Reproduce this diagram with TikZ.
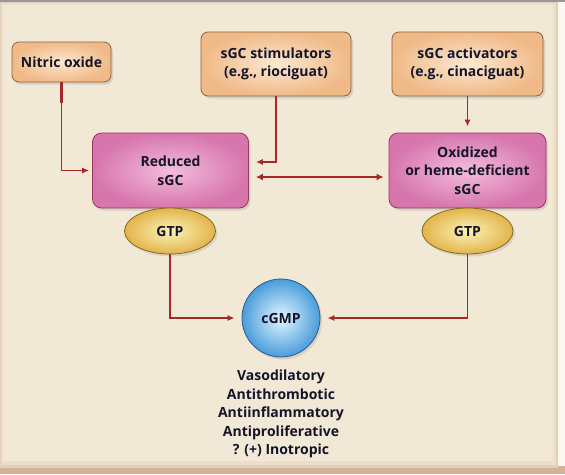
\documentclass[tikz,border=0pt]{standalone}
\usepackage{fontspec}
\setmainfont{Open Sans}
\usetikzlibrary{arrows.meta,shadows,shapes.geometric,calc}

\definecolor{bgbeige}{HTML}{F2E8D6}
\definecolor{bgedge}{HTML}{E4CFB8}
\definecolor{bgrim}{HTML}{D4B395}
\definecolor{rimgray}{HTML}{9A9895}
\definecolor{agentin}{HTML}{FCE8D0}
\definecolor{agentout}{HTML}{F0BA88}
\definecolor{agentedge}{HTML}{8E6140}
\definecolor{sgcin}{HTML}{F4BCDC}
\definecolor{sgcout}{HTML}{D676AD}
\definecolor{sgcedge}{HTML}{9A3566}
\definecolor{gtpin}{HTML}{FCF2B8}
\definecolor{gtpout}{HTML}{E2B44A}
\definecolor{gtpedge}{HTML}{876A22}
\definecolor{cgmpin}{HTML}{E2F7FF}
\definecolor{cgmpout}{HTML}{4A9CDB}
\definecolor{cgmpedge}{HTML}{2A5C8C}
\definecolor{arrowred}{HTML}{A52A26}
\definecolor{txtdark}{HTML}{15152A}

\begin{document}
\begin{tikzpicture}[x=1pt,y=-1pt,
    every node/.style={font=\fontsize{14}{18.5}\selectfont\bfseries, text=txtdark, align=center, inner sep=0pt},
    softshadow/.style={drop shadow={opacity=0.22, shadow xshift=2pt, shadow yshift=-2.5pt}},
    agentbox/.style={draw=agentedge, line width=0.8pt, rounded corners=7pt,
        inner color=agentin, outer color=agentout, softshadow},
    sgcbox/.style={draw=sgcedge, line width=0.8pt, rounded corners=9pt,
        inner color=sgcin, outer color=sgcout, minimum width=156pt, minimum height=75pt, softshadow},
    gtpnode/.style={ellipse, draw=gtpedge, line width=0.8pt, inner color=gtpin, outer color=gtpout,
        minimum width=91pt, minimum height=46pt, softshadow},
    conn/.style={draw=arrowred, line width=1.3pt, -{Latex[length=7pt,width=6pt]}}
  ]
        % frame
        \fill[bgrim] (0,0) rectangle (565,474);
        \fill[bgedge] (0,2) rectangle (558,468);
        \fill[bgbeige!60!bgedge] (1,3) rectangle (556,465);
        \fill[bgbeige] (3,5) rectangle (553,461);
        \fill[rimgray] (0,0) rectangle (565,2);
        \fill[white!70!bgbeige] (558,2) rectangle (565,466);

        % agents
        \node[agentbox, minimum width=99pt, minimum height=40pt] (no) at (61.5,62) {Nitric oxide};
        \node[agentbox, minimum width=150pt, minimum height=64pt] (stim) at (276,64) {sGC stimulators\\(e.g., riociguat)};
        \node[agentbox, minimum width=151pt, minimum height=64pt] (act) at (467.5,64) {sGC activators\\(e.g., cinaciguat)};

        % sGC forms
        \node[sgcbox] (red) at (170.5,170.5) {Reduced\\sGC};
        \node[sgcbox, minimum width=157pt] (ox) at (467.5,170.5) {Oxidized\\or heme-deficient\\sGC};

        \node[gtpnode] (gtpl) at (170,231) {GTP};
        \node[gtpnode] (gtpr) at (467.5,231) {GTP};

        \node[circle, draw=cgmpedge, line width=0.8pt, inner color=cgmpin, outer color=cgmpout,
              minimum size=78pt, softshadow] (cgmp) at (281,318) {cGMP};

        \node (effects) at (281,414) {Vasodilatory\\Antithrombotic\\Antiinflammatory\\Antiproliferative\\? (+) Inotropic};

        % connectors
        \draw[arrowred, line width=2.6pt] (no.south) -- ++(0,21);
        \draw[conn, shorten >=3pt] (no.south) |- (red.west);
        \draw[conn, shorten >=7pt] (stim.south) |- ($(red.east)+(0,-8.5)$);
        \draw[conn, line width=2pt, {Latex[length=7pt,width=7pt]}-{Latex[length=7pt,width=7pt]},
              shorten <=7pt, shorten >=5pt] ($(red.east)+(0,6.5)$) -- ($(ox.west)+(0,6.5)$);
        \draw[conn, shorten >=6pt] (act) -- (ox);
        \draw[conn, shorten >=7pt] (gtpl) |- (cgmp);
        \draw[conn, shorten >=7pt] (gtpr) |- (cgmp);
    \end{tikzpicture}
\end{document}
